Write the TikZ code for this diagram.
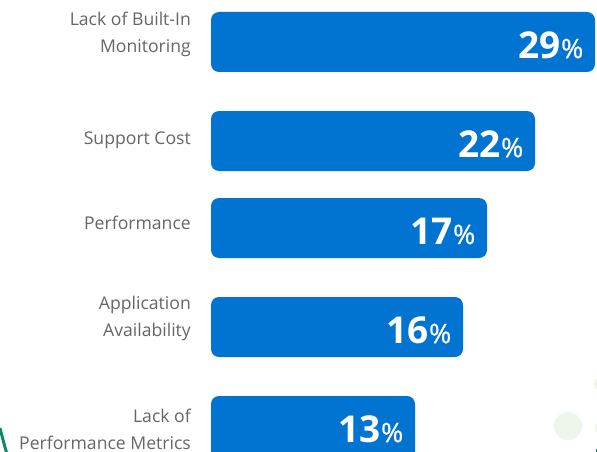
\documentclass[tikz,border=0pt]{standalone}
\usepackage{fontspec}
\setmainfont{Open Sans}
\definecolor{barblue}{HTML}{0174D2}
\definecolor{labelgrey}{HTML}{666666}
\definecolor{deepgreen}{HTML}{0E8A6B}
\definecolor{palegreen}{HTML}{EEF5EA}
\newcommand{\pctsign}{\fontsize{27}{27}\selectfont\addfontfeature{FakeBold=0.6}\mdseries\%}
\tikzset{
  bar/.style={fill=barblue,draw=none,rounded corners=8pt},
  lbl/.style={text=labelgrey,font=\fontsize{17.6}{27.5}\selectfont,align=right,anchor=east,inner sep=0pt},
  val/.style={text=white,anchor=east,inner sep=0pt,font=\fontsize{37}{37}\selectfont\bfseries}
}
\begin{document}
\begin{tikzpicture}[x=1pt,y=-1pt]
\useasboundingbox (0,0) rectangle (597,452);
\clip (0,0) rectangle (597,452);
\fill[white] (0,0) rectangle (597,452);
\fill[palegreen] (568,426) circle (14);
\draw[deepgreen,line width=3pt] (0,428) .. controls (2,436) and (4,444) .. (7,454);
\fill[palegreen] (601,384) circle (7);
\fill[palegreen] (602,428) circle (7);
\fill[deepgreen] (596,449) rectangle (597,452);
\fill[bar] (211,12) rectangle (595,72);
\fill[bar] (211,111) rectangle (535,171);
\fill[bar] (211,198) rectangle (487,258);
\fill[bar] (211,297) rectangle (463,357);
\fill[bar] (211,396) rectangle (415,470);
\node[val] (v1) at (583.5,45) {29\pctsign};
\node[val] (v2) at (523.5,144) {22\pctsign};
\node[val] (v3) at (475.5,231) {17\pctsign};
\node[val] (v4) at (451.5,330) {16\pctsign};
\node[val] (v5) at (403.5,429) {13\pctsign};
\node[lbl] (l1) at (191,34.5) {Lack of Built-In\\Monitoring};
\node[lbl] (l2) at (191,140) {Support Cost};
\node[lbl] (l3) at (191,223) {Performance};
\node[lbl] (l4) at (191,318.5) {Application\\Availability};
\node[lbl] (l5) at (191,429.5) {Lack of\\Performance Metrics};
\end{tikzpicture}
\end{document}
